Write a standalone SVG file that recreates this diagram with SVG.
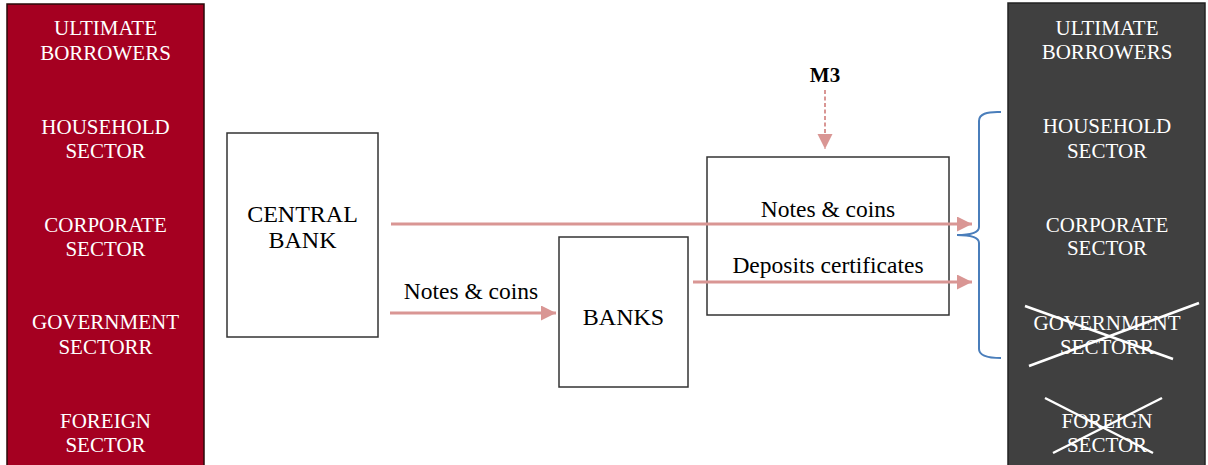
<svg xmlns="http://www.w3.org/2000/svg" width="1208" height="465" viewBox="0 0 1208 465">
<style>
.pt{font-family:"Liberation Serif","Times New Roman",serif;font-size:21px;fill:#ffffff;text-anchor:middle}
.bt{font-family:"Liberation Serif","Times New Roman",serif;font-size:24px;fill:#000000;text-anchor:middle}
.lbl{font-family:"Liberation Serif","Times New Roman",serif;font-size:23.5px;fill:#000000;text-anchor:middle}
.box{fill:#ffffff;stroke:#333333;stroke-width:1.5}
.arr{stroke:#D99694;stroke-width:3;fill:none}
.x{stroke:#ffffff;stroke-width:2.5}
</style>
<defs>
<marker id="ah" markerWidth="16" markerHeight="16" refX="15" refY="7.5" orient="auto" markerUnits="userSpaceOnUse">
<path d="M0,0 L15,7.5 L0,15 Z" fill="#D99694"/>
</marker>
</defs>
<rect width="1208" height="465" fill="#ffffff"/>
<g id="left-panel">
<rect x="7" y="4" width="197" height="470" fill="#A50021" stroke="#2a0a0a" stroke-width="1.5"/>
<text class="pt" x="105.5" y="35">ULTIMATE</text>
<text class="pt" x="105.5" y="60">BORROWERS</text>
<text class="pt" x="105.5" y="134">HOUSEHOLD</text>
<text class="pt" x="105.5" y="158">SECTOR</text>
<text class="pt" x="105.5" y="232">CORPORATE</text>
<text class="pt" x="105.5" y="256">SECTOR</text>
<text class="pt" x="105.5" y="329">GOVERNMENT</text>
<text class="pt" x="105.5" y="354">SECTORR</text>
<text class="pt" x="105.5" y="428">FOREIGN</text>
<text class="pt" x="105.5" y="452">SECTOR</text>
</g>
<g id="right-panel">
<rect x="1008" y="3" width="197" height="470" fill="#404040" stroke="#222222" stroke-width="1.5"/>
<text class="pt" x="1107" y="35">ULTIMATE</text>
<text class="pt" x="1107" y="59">BORROWERS</text>
<text class="pt" x="1107" y="133">HOUSEHOLD</text>
<text class="pt" x="1107" y="158">SECTOR</text>
<text class="pt" x="1107" y="232">CORPORATE</text>
<text class="pt" x="1107" y="255">SECTOR</text>
<text class="pt" x="1107" y="330">GOVERNMENT</text>
<text class="pt" x="1107" y="354">SECTORR</text>
<text class="pt" x="1107" y="428">FOREIGN</text>
<text class="pt" x="1107" y="452">SECTOR</text>
<line class="x" x1="1029" y1="366" x2="1199" y2="303"/>
<line class="x" x1="1025" y1="306" x2="1173" y2="359"/>
<line class="x" x1="1045" y1="398" x2="1153" y2="453"/>
<line class="x" x1="1053" y1="453" x2="1162" y2="398"/>
</g>
<g id="central-bank">
<rect class="box" x="227" y="133" width="151" height="204"/>
<text class="bt" x="302.5" y="222">CENTRAL</text>
<text class="bt" x="302.5" y="248">BANK</text>
</g>
<g id="banks">
<rect class="box" x="559" y="237" width="129" height="150"/>
<text class="bt" x="623.5" y="325">BANKS</text>
</g>
<g id="m3-box">
<rect class="box" x="707" y="157" width="242" height="158"/>
</g>
<g id="m3-label">
<text x="825" y="82" font-family="'Liberation Serif','Times New Roman',serif" font-size="21" font-weight="bold" text-anchor="middle" fill="#000">M3</text>
</g>
<g id="connectors">
<line class="arr" x1="391" y1="224" x2="972" y2="224" marker-end="url(#ah)"/>
<line class="arr" x1="390" y1="313" x2="556" y2="313" marker-end="url(#ah)"/>
<line class="arr" x1="693" y1="282" x2="972" y2="282" marker-end="url(#ah)"/>
<line x1="825" y1="90" x2="825" y2="149" stroke="#D99694" stroke-width="2" stroke-dasharray="4,2.5" marker-end="url(#ah)"/>
<text class="lbl" x="828" y="217">Notes &amp; coins</text>
<text class="lbl" x="828" y="273">Deposits certificates</text>
<text class="lbl" x="471" y="299">Notes &amp; coins</text>
<path d="M1001,112 Q979,111 979,121 L979,227 Q979,235 957,235 Q979,235 979,243 L979,349 Q979,358 1001,358" fill="none" stroke="#4A7EBB" stroke-width="2"/>
</g>
</svg>
